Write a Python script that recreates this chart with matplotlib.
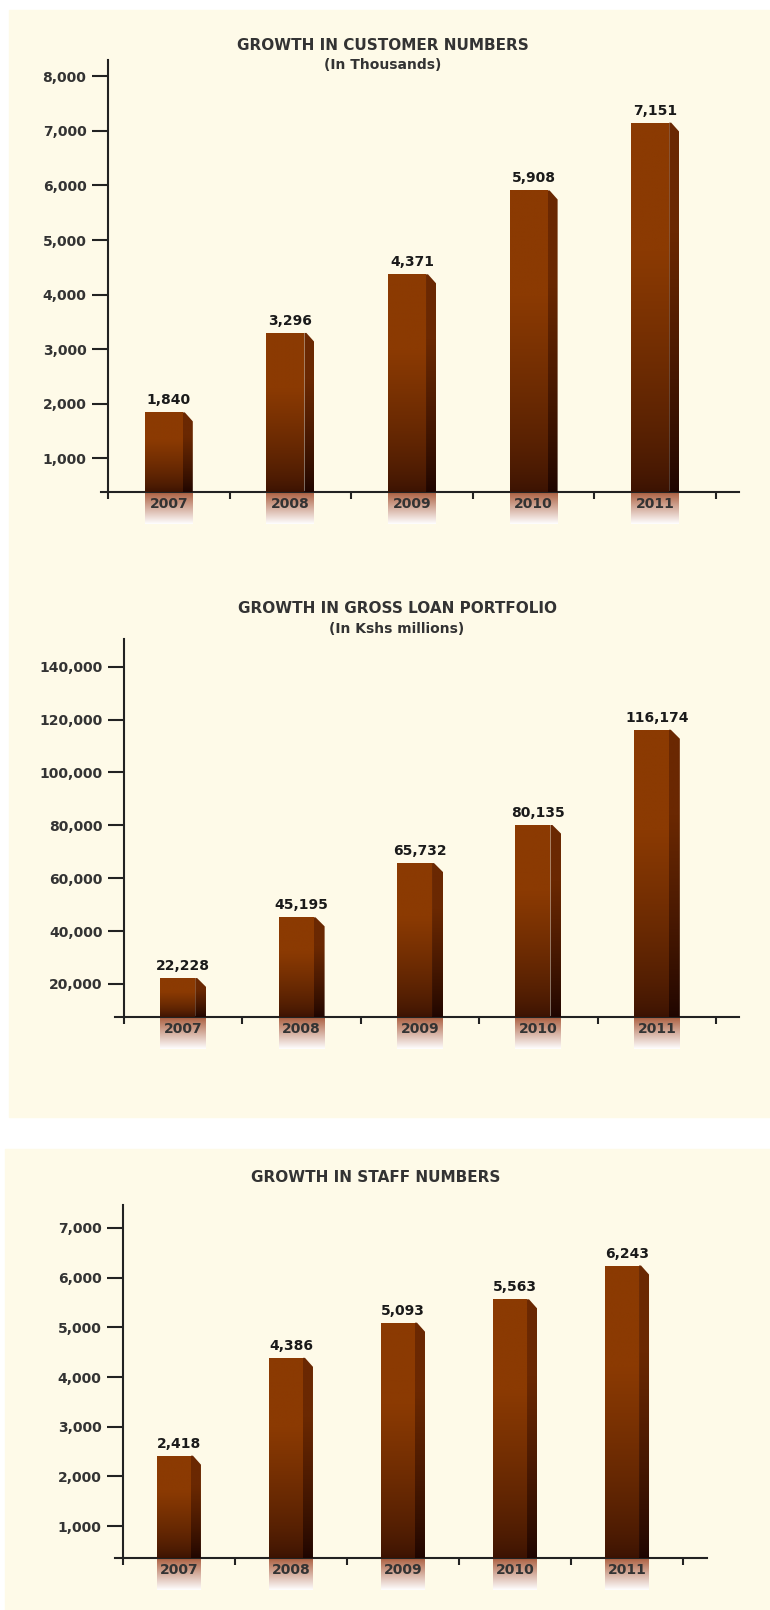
## Growth charts: customers, loan portfolio, staff ##

import numpy as np
import matplotlib.pyplot as plt
from matplotlib.patches import Rectangle, Polygon
from matplotlib.colors import to_rgb

years = ["2007", "2008", "2009", "2010", "2011"]

customers = [1840, 3296, 4371, 5908, 7151]
customer_ticks = [1000, 2000, 3000, 4000, 5000, 6000, 7000, 8000]

loans = [22228, 45195, 65732, 80135, 116174]
loan_ticks = [20000, 40000, 60000, 80000, 100000, 120000, 140000]

staff = [2418, 4386, 5093, 5563, 6243]
staff_ticks = [1000, 2000, 3000, 4000, 5000, 6000, 7000]

W, H = 770, 1610
CREAM = "#FEFAE8"
AXIS = "#222222"
TEXT = "#333333"

plt.rcParams["font.family"] = ["DejaVu Sans"]
plt.rcParams["font.weight"] = "bold"

fig = plt.figure(figsize=(W / 100, H / 100), dpi=100)
fig.patch.set_facecolor("white")

# cream background blocks
fig.add_artist(Rectangle((9 / W, 1 - 1117 / H), (W - 9) / W, (1117 - 10) / H,
                         transform=fig.transFigure, color=CREAM, zorder=0))
fig.add_artist(Rectangle((5 / W, 0), (W - 5) / W, (H - 1149) / H,
                         transform=fig.transFigure, color=CREAM, zorder=0))


def px_axes(left, right, top, bottom):
    return fig.add_axes([left / W, 1 - bottom / H, (right - left) / W, (bottom - top) / H])


def gradient(c_bottom, c_top, power=1.0, flat=0.0):
    t = np.linspace(0, 1, 256)
    t = np.clip(t / (1 - flat), 0, 1) ** power
    cb, ct = np.array(to_rgb(c_bottom)), np.array(to_rgb(c_top))
    return (cb[None, :] + (ct - cb)[None, :] * t[:, None])[:, None, :]


front_grad = gradient("#3A1203", "#8B3A02", power=0.7, flat=0.35)
side_grad = gradient("#1E0500", "#6A2802", power=0.8, flat=0.3)
refl_grad = gradient("#FFFFFF", "#AE6446", power=1.0)


def draw_panel(ax, values, ticks, ylim, xlim, front_px, side_px):
    ax.set_xlim(xlim)
    ax.set_ylim(ylim)
    ax.patch.set_visible(False)
    bbox = ax.get_window_extent()
    dx = (xlim[1] - xlim[0]) / bbox.width
    dy = (ylim[1] - ylim[0]) / bbox.height
    ymin = ylim[0]

    x = np.arange(len(values))
    total = (front_px + side_px) * dx
    bars = ax.bar(x - total / 2, np.array(values) - ymin, bottom=ymin,
                  width=front_px * dx, align="edge", facecolor="none",
                  edgecolor="none", zorder=3)

    for i, (b, v) in enumerate(zip(bars, values)):
        x0 = b.get_x()
        x1 = x0 + b.get_width()
        x2 = x0 + total
        im = ax.imshow(front_grad, extent=(x0, x1, ymin, v), origin="lower",
                       aspect="auto", zorder=3, interpolation="bilinear")
        im.set_clip_path(b)

        side = Polygon([(x1, ymin), (x2, ymin), (x2, v - 9 * dy),
                        (x1 + 2 * dx, v), (x1, v)], closed=True,
                       facecolor="none", edgecolor="none", zorder=3)
        ax.add_patch(side)
        im = ax.imshow(side_grad, extent=(x1, x2, ymin, v), origin="lower",
                       aspect="auto", zorder=3, interpolation="bilinear")
        im.set_clip_path(side)

        # reflection under the axis
        ax.imshow(refl_grad, extent=(x0, x2, ymin - 32 * dy, ymin - 1.5 * dy),
                  origin="lower", aspect="auto", zorder=1,
                  interpolation="bilinear", clip_on=False)

        ax.text(i, ymin - 12 * dy, years[i], ha="center", va="center",
                fontsize=10, color=TEXT, clip_on=False, zorder=5)
        ax.text(i, v + 5 * dy, f"{v:,}", ha="center", va="bottom",
                fontsize=10, color="#1A1A1A", zorder=5)

    ax.set_xlim(xlim)
    ax.set_ylim(ylim)

    for s in ["top", "right"]:
        ax.spines[s].set_visible(False)
    ax.spines["left"].set_position(("data", -0.5))
    for s in ["left", "bottom"]:
        ax.spines[s].set_linewidth(1.5)
        ax.spines[s].set_color(AXIS)
        ax.spines[s].set_zorder(2)

    ax.set_yticks(ticks)
    ax.set_yticklabels([f"{t:,}" for t in ticks])
    ax.tick_params(axis="y", direction="out", length=11.5, width=1.5,
                   pad=4, labelsize=10, colors=AXIS, labelcolor=TEXT)
    ax.set_xticks(np.arange(-0.5, len(values), 1.0))
    ax.set_xticklabels([])
    ax.tick_params(axis="x", direction="out", length=5, width=1.5, colors=AXIS)


## PANEL 1: CUSTOMERS ##
ax1 = px_axes(101, 739, 60, 492)
draw_panel(ax1, customers, customer_ticks, (380, 8300), (-0.5576, 4.689), 38, 10)
fig.text(383 / W, 1 - 45 / H, "GROWTH IN CUSTOMER NUMBERS", ha="center", va="center",
         fontsize=11, color=TEXT)
fig.text(383 / W, 1 - 65 / H, "(In Thousands)", ha="center", va="center",
         fontsize=10, color=TEXT)

## PANEL 2: LOAN PORTFOLIO ##
ax2 = px_axes(115, 739, 639, 1017)
draw_panel(ax2, loans, loan_ticks, (7500, 150500), (-0.576, 4.694), 35, 11)
fig.text(397 / W, 1 - 608 / H, "GROWTH IN GROSS LOAN PORTFOLIO", ha="center", va="center",
         fontsize=11, color=TEXT)
fig.text(397 / W, 1 - 629 / H, "(In Kshs millions)", ha="center", va="center",
         fontsize=10, color=TEXT)

## PANEL 3: STAFF ##
ax3 = px_axes(115, 707, 1205, 1558)
draw_panel(ax3, staff, staff_ticks, (360, 7460), (-0.571, 4.714), 34, 10)
fig.text(376 / W, 1 - 1177 / H, "GROWTH IN STAFF NUMBERS", ha="center", va="center",
         fontsize=11, color=TEXT)

fig.savefig("out.png", dpi=100, facecolor="white")
